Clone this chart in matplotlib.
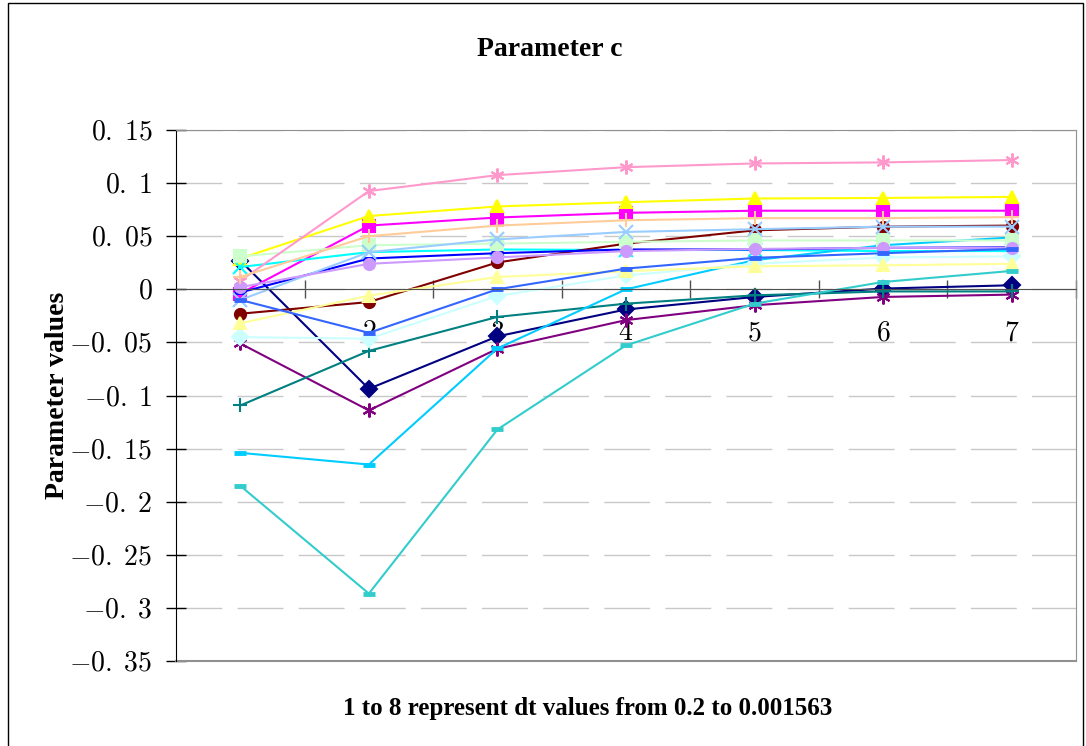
import matplotlib
matplotlib.use('Agg')
import matplotlib.pyplot as plt
from matplotlib.patches import Rectangle

plt.rcParams['font.family'] = ['Liberation Serif', 'DejaVu Serif']
plt.rcParams['mathtext.fontset'] = 'cm'

x = [1, 2, 3, 4, 5, 6, 7]
xtick_labels = ['1', '2', '3', '4', '5', '6', '7']
ytick_vals = [0.15, 0.1, 0.05, 0, -0.05, -0.1, -0.15, -0.2, -0.25, -0.3, -0.35]
ytick_labels = ['0. 15', '0. 1', '0. 05', '0', '-0. 05', '-0. 1', '-0. 15',
                '-0. 2', '-0. 25', '-0. 3', '-0. 35']

# excel default series order
s1 = [0.027, -0.0937, -0.0443, -0.019, -0.0072, 0.0007, 0.0038]
s2 = [-0.004, 0.060, 0.0676, 0.072, 0.074, 0.074, 0.074]
s3 = [0.029, 0.069, 0.078, 0.082, 0.0855, 0.086, 0.087]
s4 = [0.021, 0.035, 0.0375, 0.037, 0.037, 0.036, 0.036]
s5 = [-0.051, -0.114, -0.056, -0.029, -0.015, -0.0072, -0.005]
s6 = [-0.023, -0.012, 0.0253, 0.043, 0.0555, 0.059, 0.060]
s7 = [-0.1094, -0.058, -0.026, -0.0135, -0.0057, -0.002, -0.002]
s8 = [-0.003, 0.029, 0.034, 0.0375, 0.0375, 0.039, 0.0395]
s9 = [-0.154, -0.165, -0.0557, 0.0, 0.0274, 0.0415, 0.0488]
s10 = [-0.045, -0.0465, -0.0063, 0.013, 0.024, 0.030, 0.031]
s11 = [0.031, 0.0415, 0.043, 0.0447, 0.046, 0.046, 0.046]
s12 = [-0.032, -0.006, 0.0116, 0.017, 0.0217, 0.0226, 0.024]
s13 = [-0.010, 0.035, 0.047, 0.054, 0.0566, 0.059, 0.059]
s14 = [0.008, 0.0925, 0.1075, 0.115, 0.1185, 0.1195, 0.1217]
s15 = [0.002, 0.024, 0.030, 0.036, 0.038, 0.039, 0.039]
s16 = [0.0116, 0.050, 0.060, 0.065, 0.067, 0.067, 0.068]
s17 = [-0.010, -0.041, 0.0, 0.0195, 0.0296, 0.034, 0.038]
s18 = [-0.185, -0.2865, -0.132, -0.0528, -0.0135, 0.0069, 0.0173]

series = [s1, s2, s3, s4, s5, s6, s7, s8, s9, s10, s11, s12, s13, s14, s15, s16, s17, s18]
colors = ['#000080', '#FF00FF', '#FFFF00', '#00FFFF', '#800080', '#800000',
          '#008080', '#0000FF', '#00CCFF', '#CCFFFF', '#CCFFCC', '#FFFF99',
          '#99CCFF', '#FF99CC', '#CC99FF', '#FFCC99', '#3366FF', '#33CCCC']
markers = ['D', 's', '^', 'x', (6, 2, 0), 'o', '+', '_', '_',
           'D', 's', '^', 'x', (6, 2, 0), 'o', '+', '_', '_']

fig = plt.figure(figsize=(10.86, 7.46), dpi=100)
ax = fig.add_axes([176/1086, 1-661/746, 900/1086, 531/746])

for s, c, m in zip(series, colors, markers):
    ms = 8
    mew = 1.5
    if m == '_':
        ms, mew = 9, 3.5
    elif m in ('x', '+') or isinstance(m, tuple):
        ms, mew = 10, 1.5
    ax.plot(x, s, color=c, lw=1.5, marker=m, ms=ms, mec=c, mfc=c, mew=mew)

ax.set_xlim(0.5, 7.5)
ax.set_ylim(-0.35, 0.15)

ax.spines['bottom'].set_position(('data', 0))
ax.spines['bottom'].set_color('#505050')
ax.spines['left'].set_color('black')
ax.spines['top'].set_color('#909090')
ax.spines['right'].set_color('#909090')
ax.axhline(-0.35, color='#909090', lw=1.5, clip_on=False)

ax.set_yticks(ytick_vals)
ax.set_yticklabels(['$' + t.replace(' ', r'\;') + '$' for t in ytick_labels])
ax.tick_params(axis='y', direction='inout', length=14, width=1, pad=10,
               labelsize=20, color='black')
ax.yaxis.grid(True, color='#c8c8c8', lw=1, linestyle=(0, (33, 11)))
ax.set_axisbelow(True)

ax.set_xticks([1.5, 2.5, 3.5, 4.5, 5.5, 6.5, 7.5])
ax.set_xticklabels([])
ax.set_xticks(x, minor=True)
ax.set_xticklabels(['$' + t + '$' for t in xtick_labels], minor=True)
ax.tick_params(axis='x', which='major', direction='inout', length=13, width=1,
               color='#505050')
ax.tick_params(axis='x', which='minor', length=0, pad=23, labelsize=20)

fig.text(550/1086, 1-50/746, 'Parameter c', ha='center', va='center',
         fontsize=20, fontweight='bold')
fig.text(58/1086, 1-395/746, 'Parameter values', ha='center', va='center',
         rotation=90, fontsize=20, fontweight='bold')
fig.text(588/1086, 1-708/746, '1 to 8 represent dt values from 0.2 to 0.001563',
         ha='center', va='center', fontsize=18, fontweight='bold')

fig.patches.append(Rectangle((8/1086, -0.01), 1075/1086, 1-3/746+0.01,
                             transform=fig.transFigure, fill=False,
                             edgecolor='black', lw=1))

fig.savefig('out.png', dpi=100)
